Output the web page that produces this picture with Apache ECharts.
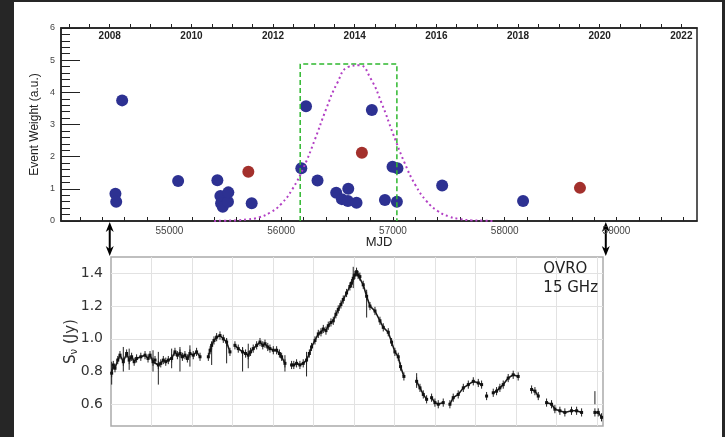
<!DOCTYPE html>
<html>
<head>
<meta charset="utf-8">
<script src="https://cdn.jsdelivr.net/npm/echarts@6/dist/echarts.min.js"></script>
<style>
html, body { margin: 0; padding: 0; background: #262626; }
#paper { position: absolute; left: 14px; top: 2px; width: 708px; height: 435px; background: #fff; }
#main { position: absolute; left: 0; top: 0; width: 725px; height: 437px; }
</style>
</head>
<body>
<div id="paper"></div>
<div id="main"></div>
<script>
// event weights (top panel)
var blueMjd = [54517, 54524, 54577, 55078, 55429, 55456, 55462, 55477, 55524, 55527, 55736,
  56180, 56222, 56325, 56492, 56543, 56597, 56600, 56674, 56811, 56928, 56996, 57035, 57040, 57440, 58164];
var blueWeight = [0.85, 0.60, 3.75, 1.24, 1.27, 0.78, 0.55, 0.44, 0.60, 0.89, 0.55,
  1.64, 3.57, 1.26, 0.88, 0.68, 0.62, 1.00, 0.57, 3.45, 0.65, 1.69, 0.60, 1.64, 1.10, 0.62];
var redMjd = [55706, 56722, 58673];
var redWeight = [1.53, 2.12, 1.03];

// flare window and fitted profile
var boxStart = 56170, boxEnd = 57035, boxHeight = 4.88;
var gaussMjd = [55400, 55500, 55600, 55700, 55800, 55900, 56000, 56100, 56200, 56300, 56400, 56500, 56600,
  56700, 56800, 56900, 57000, 57100, 57200, 57300, 57400, 57500, 57600, 57700, 57800, 57900];
var gaussWeight = [0.00, 0.01, 0.02, 0.05, 0.11, 0.26, 0.53, 0.99, 1.66, 2.52, 3.46, 4.28, 4.79,
  4.84, 4.43, 3.65, 2.72, 1.84, 1.12, 0.62, 0.31, 0.14, 0.06, 0.02, 0.01, 0.00];

// calendar axis
var yearNames = [2007, 2008, 2009, 2010, 2011, 2012, 2013, 2014, 2015, 2016, 2017, 2018, 2019, 2020, 2021, 2022];
var yearMjd = [54101, 54466, 54832, 55197, 55562, 55927, 56293, 56658, 57023, 57388, 57754, 58119, 58484, 58849, 59215, 59580];

// OVRO 15 GHz light curve (null = gap)
var lcMjd = [54472, 54487, 54502, 54527, 54547, 54577, 54607, 54630, 54652, 54675, 54697, 54735, 54773, 54800, 54818, 54845, 54863, 54893,
  54915, 54938, 54960, 54983, 55013, 55043, 55065, 55088, 55110, 55133, 55155, 55178, 55208, 55238, 55269, 55300,
  55344, 55360, 55374, 55395, 55419, 55449, 55479, 55509, 55539, 55560,
  55584, 55614, 55653, 55680, 55704, 55725, 55749, 55780, 55810, 55835, 55855, 55880, 55900, 55930, 55960, 55985, 56005, 56035, 56065,
  56095, 56115, 56140, 56170, 56200, 56230, 56255, 56275, 56306, 56336, 56360, 56381, 56405, 56426, 56450, 56471, 56495, 56516, 56540,
  56561, 56591, 56621, 56635, 56651, 56666, 56681, 56695, 56711, 56741, 56772, 56802, 56847, 56892, 56922, 56967, 56997, 57027, 57057,
  57078, 57108, 57160,
  57223, 57253, 57283, 57313, 57335,
  57358, 57388, 57418, 57463, 57490,
  57523, 57553, 57598, 57644, 57689, 57734, 57779, 57809, 57830,
  57854, 57880, 57914, 57944, 57974, 58004, 58049, 58094, 58139, 58200,
  58260, 58290, 58320, 58360,
  58395, 58440, 58470, 58515, 58560, 58620, 58666, 58711, 58770,
  58831, 58861, 58891];
var lcFlux = [0.79, 0.84, 0.82, 0.87, 0.90, 0.86, 0.91, 0.87, 0.89, 0.86, 0.88, 0.89, 0.90, 0.88, 0.90, 0.86, 0.87, 0.84,
  0.85, 0.87, 0.86, 0.87, 0.88, 0.92, 0.90, 0.91, 0.89, 0.90, 0.88, 0.91, 0.90, 0.92, 0.89, null,
  0.89, 0.93, 0.96, 0.99, 1.01, 1.02, 1.00, 0.98, 0.92, null,
  0.96, 0.94, 0.92, 0.91, 0.90, 0.92, 0.94, 0.96, 0.98, 0.96, 0.97, 0.95, 0.94, 0.93, 0.93, 0.91, 0.89, 0.85, null,
  0.84, 0.84, 0.85, 0.84, 0.85, 0.87, 0.91, 0.95, 0.99, 1.03, 1.04, 1.06, 1.05, 1.08, 1.10, 1.11, 1.15, 1.18, 1.21,
  1.24, 1.28, 1.32, 1.34, 1.37, 1.39, 1.41, 1.39, 1.38, 1.33, 1.26, 1.20, 1.17, 1.11, 1.07, 1.04, 0.98, 0.92, 0.89,
  0.83, 0.77, null,
  0.74, 0.70, 0.66, 0.63, null,
  0.64, 0.61, 0.60, 0.61, null,
  0.60, 0.64, 0.66, 0.70, 0.72, 0.74, 0.73, 0.72, null,
  0.65, null, 0.67, 0.68, 0.70, 0.72, 0.76, 0.78, 0.77, null,
  0.69, 0.68, 0.65, null,
  0.61, 0.60, 0.57, 0.56, 0.55, 0.56, 0.56, 0.55, null,
  0.55, 0.55, 0.52];
var lcErrHalf = 0.025;
// a few larger error bars: mjd, low, high
var errMjd = [54472, 54577, 54630, 54845, 54893, 55013, 55088, 55178, 55374, 55509, 55653, 55704, 56035, 56230, 56651, 56772, 57223, 58831];
var errLow = [0.72, 0.80, 0.81, 0.80, 0.72, 0.82, 0.80, 0.83, 0.84, 0.85, 0.80, 0.82, 0.80, 0.77, 1.31, 1.13, 0.70, 0.60];
var errHigh = [0.86, 0.95, 0.94, 0.93, 0.92, 0.94, 0.95, 0.96, 0.98, 1.00, 0.95, 0.97, 0.90, 0.92, 1.44, 1.30, 0.79, 0.68];

var lcMin = 54466, lcMax = 58904;

function zip(a, b) {
  return a.map(function (v, i) { return [v, b[i]]; });
}

var topTicks = [];
for (var t = 54200; t <= 59600; t += 200) topTicks.push(t);
var yearTicks = [];
yearMjd.forEach(function (m) { yearTicks.push(m); yearTicks.push(m + 182); });
var yearLabels = yearMjd.filter(function (m, i) { return yearNames[i] % 2 === 0; });

var lcBars = [];
lcMjd.forEach(function (m, i) {
  if (lcFlux[i] !== null) lcBars.push([m, lcFlux[i] - lcErrHalf, lcFlux[i] + lcErrHalf]);
});
errMjd.forEach(function (m, i) { lcBars.push([m, errLow[i], errHigh[i]]); });

var chart = echarts.init(document.getElementById('main'));
var option = {
  animation: false,
  textStyle: { fontFamily: 'Liberation Sans' },
  grid: [
    { left: 61, top: 28, width: 636, height: 193, show: true, borderColor: '#222', borderWidth: 1.5 },
    { left: 111, top: 257, width: 492, height: 169, show: true, borderColor: '#aaa', borderWidth: 1.5 }
  ],
  xAxis: [
    {
      gridIndex: 0, type: 'value', min: 54030, max: 59720,
      name: 'MJD', nameLocation: 'middle', nameGap: 15, nameMoveOverlap: false,
      nameTextStyle: { fontSize: 13, color: '#222' },
      axisLine: { lineStyle: { color: '#222', width: 1.5 } },
      axisTick: { inside: true, length: 4, customValues: topTicks, lineStyle: { color: '#222' } },
      axisLabel: {
        customValues: [55000, 56000, 57000, 58000, 59000], fontSize: 10, color: '#444', margin: 5,
        formatter: function (v) { return String(v); }
      },
      splitLine: { show: false }
    },
    {
      gridIndex: 0, type: 'value', position: 'top', min: 54030, max: 59720,
      axisLine: { lineStyle: { color: '#222', width: 1.5 } },
      axisTick: { length: 4, customValues: yearTicks, lineStyle: { color: '#222' } },
      axisLabel: {
        inside: true, customValues: yearLabels, fontSize: 10, fontWeight: 'bold', color: '#222', margin: 3,
        formatter: function (v) { return String(yearNames[yearMjd.indexOf(v)]); }
      },
      splitLine: { show: false }
    },
    {
      gridIndex: 1, type: 'value', min: lcMin, max: lcMax,
      axisLine: { show: false },
      axisTick: { show: false, customValues: yearMjd.slice(2, 14) },
      axisLabel: { show: false },
      splitLine: { show: true, lineStyle: { color: '#e2e2e2', width: 1 } }
    }
  ],
  yAxis: [
    {
      gridIndex: 0, type: 'value', min: 0, max: 6, interval: 1,
      name: 'Event Weight (a.u.)', nameLocation: 'middle', nameGap: 20, nameMoveOverlap: false,
      nameTextStyle: { fontSize: 12, color: '#222' },
      axisLine: { show: true, lineStyle: { color: '#222', width: 1.5 } },
      axisTick: { inside: true, length: 19, lineStyle: { color: '#222' } },
      minorTick: { show: true, splitNumber: 5, length: 9, lineStyle: { color: '#222' } },
      axisLabel: { fontSize: 9, color: '#444', margin: 6 },
      splitLine: { show: false }
    },
    {
      gridIndex: 1, type: 'value', min: 0.467, max: 1.5,
      name: '{s|S}{sub|ν}{s| (Jy)}', nameLocation: 'middle', nameGap: 32, nameMoveOverlap: false,
      nameTextStyle: {
        rich: {
          s: { fontSize: 15, color: '#333', fontFamily: 'DejaVu Sans' },
          sub: { fontSize: 10, color: '#333', fontFamily: 'DejaVu Sans', verticalAlign: 'bottom', padding: [6, 0, 0, 0] }
        }
      },
      axisLine: { show: false },
      axisTick: { show: false, customValues: [0.6, 0.8, 1.0, 1.2, 1.4] },
      axisLabel: {
        customValues: [0.6, 0.8, 1.0, 1.2, 1.4], fontSize: 14, color: '#333', fontFamily: 'DejaVu Sans', margin: 8,
        formatter: function (v) { return v.toFixed(1); }
      },
      splitLine: { show: true, lineStyle: { color: '#e2e2e2', width: 1 } }
    }
  ],
  series: [
    {
      type: 'line', xAxisIndex: 0, yAxisIndex: 0, symbol: 'none', silent: true,
      data: [[boxStart, 0], [boxStart, boxHeight], [boxEnd, boxHeight], [boxEnd, 0]],
      lineStyle: { color: '#2fb82f', width: 1.5, type: [5, 3] }
    },
    {
      type: 'line', xAxisIndex: 0, yAxisIndex: 0, symbol: 'none', smooth: true, silent: true,
      data: zip(gaussMjd, gaussWeight),
      lineStyle: { color: '#b23fc4', width: 2, type: [2, 3] }
    },
    {
      type: 'scatter', xAxisIndex: 0, yAxisIndex: 0, symbolSize: 12,
      data: zip(blueMjd, blueWeight),
      itemStyle: { color: '#2d3192', opacity: 1 }
    },
    {
      type: 'scatter', xAxisIndex: 0, yAxisIndex: 0, symbolSize: 12,
      data: zip(redMjd, redWeight),
      itemStyle: { color: '#a3302c', opacity: 1 }
    },
    {
      type: 'line', xAxisIndex: 2, yAxisIndex: 1, connectNulls: false,
      symbol: 'rect', symbolSize: 3, showSymbol: true,
      data: zip(lcMjd, lcFlux),
      itemStyle: { color: '#111' },
      lineStyle: { color: '#1a1a1a', width: 1.6 }
    },
    {
      type: 'custom', xAxisIndex: 2, yAxisIndex: 1,
      data: lcBars,
      renderItem: function (params, api) {
        var lo = api.coord([api.value(0), api.value(1)]);
        var hi = api.coord([api.value(0), api.value(2)]);
        return {
          type: 'line',
          shape: { x1: lo[0], y1: lo[1], x2: hi[0], y2: hi[1] },
          style: { stroke: '#222', lineWidth: 1 }
        };
      }
    }
  ]
};
chart.setOption(option);

// double arrows linking the light-curve span to the MJD axis
var yTop = chart.convertToPixel({ yAxisIndex: 0 }, 0) + 1;
var yBot = chart.convertToPixel({ yAxisIndex: 1 }, 1.5) - 1;
var arrows = [];
[lcMin, lcMax].forEach(function (m) {
  var x = chart.convertToPixel({ xAxisIndex: 0 }, m);
  arrows.push({ type: 'line', shape: { x1: x, y1: yTop + 6, x2: x, y2: yBot - 6 }, style: { stroke: '#000', lineWidth: 2 } });
  arrows.push({ type: 'polygon', shape: { points: [[x, yTop], [x - 4, yTop + 10], [x, yTop + 7], [x + 4, yTop + 10]] }, style: { fill: '#000' } });
  arrows.push({ type: 'polygon', shape: { points: [[x, yBot], [x - 4, yBot - 10], [x, yBot - 7], [x + 4, yBot - 10]] }, style: { fill: '#000' } });
});
arrows.push({
  type: 'text', right: 127, top: 260,
  style: { text: 'OVRO\n15 GHz', font: '15px "DejaVu Sans"', fill: '#222', align: 'right', lineHeight: 19 }
});
chart.setOption({ graphic: arrows });
</script>
</body>
</html>
